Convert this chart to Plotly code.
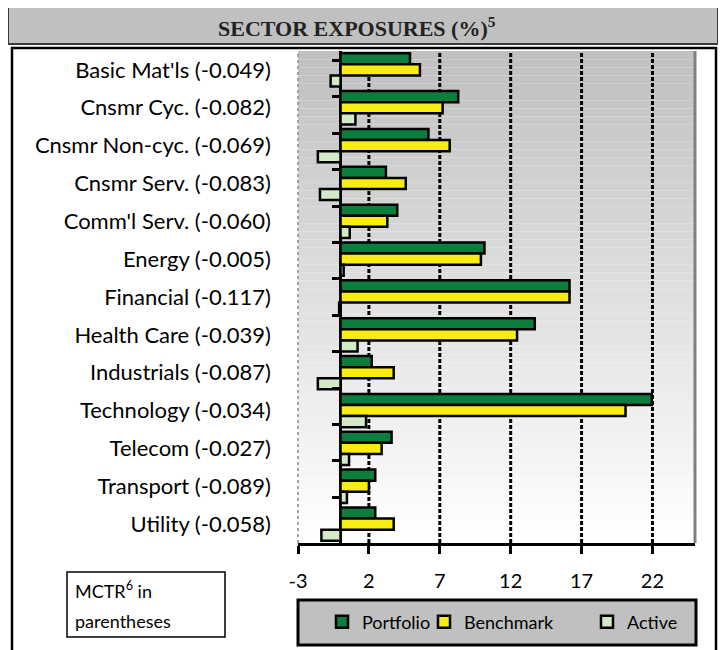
import plotly.graph_objects as go

# ---------------- data ----------------
sectors = ["Basic Mat'ls", "Cnsmr Cyc.", "Cnsmr Non-cyc.", "Cnsmr Serv.", "Comm'l Serv.",
           "Energy", "Financial", "Health Care", "Industrials", "Technology",
           "Telecom", "Transport", "Utility"]
mctr = ["-0.049", "-0.082", "-0.069", "-0.083", "-0.060", "-0.005", "-0.117",
        "-0.039", "-0.087", "-0.034", "-0.027", "-0.089", "-0.058"]
portfolio = [4.9, 8.3, 6.2, 3.2, 4.0, 10.15, 16.15, 13.7, 2.2, 21.95, 3.6, 2.45, 2.45]
benchmark = [5.6, 7.2, 7.7, 4.6, 3.3, 9.9, 16.15, 12.45, 3.75, 20.1, 2.9, 2.0, 3.75]
active = [-0.7, 1.05, -1.6, -1.45, 0.65, 0.22, -0.1, 1.2, -1.6, 1.8, 0.6, 0.45, -1.35]
tick_vals = [-3, 2, 7, 12, 17, 22]
tick_text = ["-3", "2", "7", "12", "17", "22"]
x_range = [-3, 25]

labels = [f"{s} ({m})" for s, m in zip(sectors, mctr)]

# page body adds an 8px offset; the figure is sized to fit the window
OFF = 8
W, H = 726 - OFF, 650 - OFF

def px(x):
    return (x - OFF) / W

def py(y):
    return 1 - (y - OFF) / H

# plot area (page pixels)
PL, PR, PT, PB = 298, 695, 51, 543
xdom = [px(PL), px(PR)]
ydom = [py(PB), py(PT)]

FONT = "Lato"
fig = go.Figure()

series = [("Portfolio", portfolio, "#0b7d3c", "legend", 322),
          ("Benchmark", benchmark, "#f8ec12", "legend2", 424),
          ("Active", active, "#d2ebc6", "legend3", 587)]
for name, vals, col, leg, _ in series:
    fig.add_trace(go.Bar(
        y=labels, x=vals, name=name, orientation="h", legend=leg,
        marker=dict(color=col, line=dict(color="black", width=2.5)),
    ))

# invisible trace carrying the category boundary ticks on the zero line
fig.add_trace(go.Scatter(y=labels, x=[0] * len(labels), yaxis="y2", mode="markers",
                         marker=dict(opacity=0, size=1), showlegend=False, hoverinfo="skip"))

shapes = []
# gradient background of plot area
n = 60
for i in range(n):
    t = i / (n - 1)
    g = int(round(192 + (255 - 192) * t))
    y0 = ydom[1] - (ydom[1] - ydom[0]) * i / n
    y1 = ydom[1] - (ydom[1] - ydom[0]) * (i + 1) / n
    shapes.append(dict(type="rect", xref="paper", yref="paper", x0=xdom[0], x1=xdom[1],
                       y0=y1, y1=y0, fillcolor=f"rgb({g},{g},{g})", line=dict(width=0),
                       layer="below"))
# dashed grid lines
for v in tick_vals[1:]:
    shapes.append(dict(type="line", xref="x", yref="paper", x0=v, x1=v, y0=ydom[0], y1=ydom[1],
                       line=dict(color="black", width=3, dash="4px,2px"), layer="below"))
# left dotted border, right gray border
shapes.append(dict(type="line", xref="paper", yref="paper", x0=xdom[0], x1=xdom[0],
                   y0=ydom[0], y1=ydom[1], line=dict(color="#8a8a8a", width=1.5, dash="dot"),
                   layer="below"))
shapes.append(dict(type="line", xref="paper", yref="paper", x0=xdom[1], x1=xdom[1],
                   y0=ydom[0], y1=ydom[1], line=dict(color="#808080", width=3)))
# title box
shapes.append(dict(type="rect", xref="paper", yref="paper", x0=px(8), x1=px(718),
                   y0=py(44), y1=py(6), fillcolor="#c0c0c0", line=dict(color="#3a3a3a", width=2)))
# outer frame
shapes.append(dict(type="rect", xref="paper", yref="paper", x0=px(12), x1=px(716),
                   y0=py(662), y1=py(48), line=dict(color="black", width=2.5)))
# MCTR box
shapes.append(dict(type="rect", xref="paper", yref="paper", x0=px(67), x1=px(225),
                   y0=py(637), y1=py(572), fillcolor="white", line=dict(color="black", width=1.5)))
# legend box
shapes.append(dict(type="rect", xref="paper", yref="paper", x0=px(298), x1=px(696),
                   y0=py(645), y1=py(600), fillcolor="#c0c0c0", line=dict(color="black", width=3),
                   layer="below"))

annotations = [
    dict(text="<b>SECTOR EXPOSURES (%)<sup>5</sup></b>", xref="paper", yref="paper",
         x=px(357), y=py(27), showarrow=False, xanchor="center", yanchor="middle",
         font=dict(family="Liberation Serif", size=22, color="#222")),
    dict(text="MCTR<sup>6</sup> in", xref="paper", yref="paper", x=px(73), y=py(590),
         showarrow=False, xanchor="left", yanchor="middle",
         font=dict(family=FONT, size=18, color="black")),
    dict(text="parentheses", xref="paper", yref="paper", x=px(73), y=py(621),
         showarrow=False, xanchor="left", yanchor="middle",
         font=dict(family=FONT, size=18, color="black")),
]

zero_pos = xdom[0] + (xdom[1] - xdom[0]) * (0 - x_range[0]) / (x_range[1] - x_range[0])

legend_common = dict(orientation="h", yanchor="middle", xanchor="left",
                     bgcolor="rgba(0,0,0,0)", borderwidth=0,
                     font=dict(family=FONT, size=18, color="black"), itemwidth=30)

fig.update_layout(
    width=W, height=H,
    margin=dict(l=0, r=0, t=0, b=0),
    paper_bgcolor="white", plot_bgcolor="rgba(0,0,0,0)",
    barmode="group", bargap=0.12, bargroupgap=0,
    shapes=shapes, annotations=annotations,
    font=dict(family=FONT, color="black"),
    xaxis=dict(domain=xdom, range=x_range, tickvals=tick_vals, ticktext=tick_text,
               showgrid=False,
               zeroline=True, zerolinecolor="black", zerolinewidth=2.5,
               showline=True, linecolor="black", linewidth=2.5,
               ticks="outside", ticklen=8, tickwidth=2.5, tickcolor="black",
               tickfont=dict(family=FONT, size=20, color="black"),
               ticklabelstandoff=10, automargin=False, fixedrange=True),
    yaxis=dict(domain=ydom, autorange="reversed", showgrid=False, showline=False,
               ticks="", tickfont=dict(family=FONT, size=22, color="black"),
               ticklabelstandoff=26, automargin=False, fixedrange=True,
               categoryorder="array", categoryarray=labels),
    yaxis2=dict(overlaying="y", anchor="free", position=zero_pos, side="left",
                autorange="reversed", type="category", categoryorder="array",
                categoryarray=labels, tickson="boundaries", ticks="outside",
                ticklen=9, tickwidth=2.5, tickcolor="black", showticklabels=False,
                showgrid=False, showline=False, zeroline=False, automargin=False,
                fixedrange=True),
    legend=dict(x=px(series[0][4]), y=py(622), **legend_common),
    legend2=dict(x=px(series[1][4]), y=py(622), **legend_common),
    legend3=dict(x=px(series[2][4]), y=py(622), **legend_common),
    showlegend=True,
)

fig.write_html("out.html")
